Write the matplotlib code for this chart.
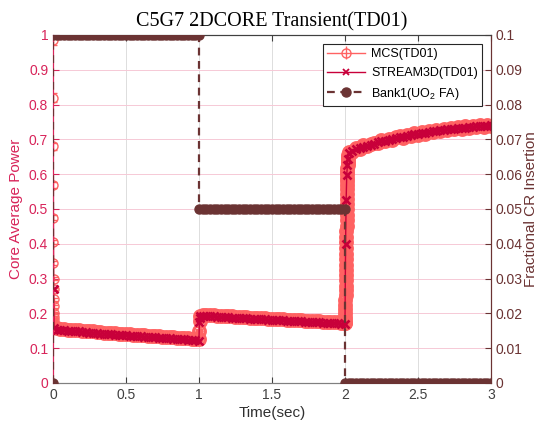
import numpy as np
import matplotlib
matplotlib.use("Agg")
from matplotlib import pyplot as plt
from matplotlib.ticker import FormatStrFormatter

# --- podatki (odčitani s slike) ---
# začetni padec moči pri t=0 (zelo majhni časovni koraki)
t_drop = [0.0, 0.0005, 0.001, 0.0015, 0.002, 0.0025, 0.003, 0.0035,
          0.004, 0.0045, 0.005, 0.0055, 0.006, 0.0065, 0.007, 0.0075]
mcs_drop = [0.985, 0.820, 0.680, 0.570, 0.475, 0.405, 0.345, 0.300,
            0.270, 0.240, 0.220, 0.200, 0.190, 0.180, 0.170, 0.160]
t_drop_s = [0.0, 0.004, 0.0075]
str_drop = [1.000, 0.270, 0.158]

# časovna mreža za gladke dele (korak 0.025 s)
t_a = [round(0.025 * i, 3) for i in range(1, 41)]          # 0.025 .. 1.0
t_b = [round(1.0 + 0.025 * i, 3) for i in range(1, 41)]    # 1.025 .. 2.0
t_c = [round(2.0 + 0.025 * i, 3) for i in range(1, 41)]    # 2.025 .. 3.0

str_a = [0.153, 0.152, 0.151, 0.150, 0.149, 0.148, 0.148, 0.147, 0.146, 0.145,
         0.144, 0.143, 0.142, 0.142, 0.141, 0.140, 0.139, 0.138, 0.138, 0.137,
         0.136, 0.135, 0.134, 0.134, 0.133, 0.132, 0.131, 0.131, 0.130, 0.129,
         0.128, 0.128, 0.127, 0.126, 0.125, 0.125, 0.124, 0.123, 0.123, 0.122]
mcs_a = [0.157, 0.155, 0.155, 0.153, 0.153, 0.151, 0.152, 0.150, 0.150, 0.148,
         0.148, 0.146, 0.146, 0.145, 0.145, 0.143, 0.143, 0.141, 0.142, 0.140,
         0.140, 0.138, 0.138, 0.137, 0.137, 0.135, 0.135, 0.134, 0.134, 0.132,
         0.132, 0.131, 0.131, 0.129, 0.129, 0.128, 0.128, 0.126, 0.127, 0.125]

# skok pri t=1
t_j1 = [1.0025, 1.005, 1.0075]
mcs_j1 = [0.150, 0.178, 0.192]
str_j1 = [0.175, 0.188, 0.191]

str_b = [0.193, 0.192, 0.192, 0.191, 0.190, 0.190, 0.189, 0.189, 0.188, 0.187,
         0.187, 0.186, 0.186, 0.185, 0.184, 0.184, 0.183, 0.183, 0.182, 0.181,
         0.181, 0.180, 0.180, 0.179, 0.178, 0.178, 0.177, 0.177, 0.176, 0.175,
         0.175, 0.174, 0.174, 0.173, 0.172, 0.172, 0.171, 0.171, 0.170, 0.169]
mcs_b = [0.196, 0.195, 0.195, 0.194, 0.193, 0.193, 0.192, 0.192, 0.191, 0.190,
         0.190, 0.189, 0.189, 0.188, 0.187, 0.187, 0.186, 0.186, 0.185, 0.184,
         0.184, 0.183, 0.183, 0.182, 0.181, 0.181, 0.180, 0.180, 0.179, 0.178,
         0.178, 0.177, 0.177, 0.176, 0.175, 0.175, 0.174, 0.174, 0.173, 0.172]

# hiter porast pri t=2
t_j2 = [round(2.0 + 0.0005 * i, 4) for i in range(1, 41)]  # 2.0005 .. 2.02
mcs_j2 = [0.172, 0.180, 0.190, 0.200, 0.212, 0.225, 0.238, 0.252, 0.266, 0.280,
          0.295, 0.310, 0.325, 0.340, 0.356, 0.372, 0.388, 0.404, 0.420, 0.436,
          0.452, 0.468, 0.484, 0.500, 0.515, 0.530, 0.544, 0.557, 0.569, 0.580,
          0.590, 0.600, 0.609, 0.617, 0.625, 0.632, 0.639, 0.645, 0.650, 0.655]
t_j2_s = [2.004, 2.008, 2.012, 2.016, 2.020]
str_j2 = [0.400, 0.527, 0.597, 0.625, 0.643]

str_c = [0.660, 0.667, 0.671, 0.675, 0.679, 0.682, 0.685, 0.688, 0.691, 0.694,
         0.696, 0.699, 0.701, 0.704, 0.706, 0.708, 0.710, 0.712, 0.714, 0.716,
         0.718, 0.719, 0.721, 0.723, 0.724, 0.726, 0.727, 0.729, 0.730, 0.731,
         0.732, 0.733, 0.734, 0.735, 0.736, 0.737, 0.738, 0.739, 0.739, 0.740]
mcs_c = [0.664, 0.665, 0.674, 0.673, 0.683, 0.680, 0.688, 0.690, 0.689, 0.697,
         0.694, 0.702, 0.699, 0.706, 0.709, 0.705, 0.713, 0.710, 0.717, 0.713,
         0.721, 0.716, 0.724, 0.720, 0.728, 0.723, 0.731, 0.726, 0.733, 0.729,
         0.735, 0.731, 0.737, 0.733, 0.739, 0.735, 0.741, 0.736, 0.742, 0.738]
mcs_rel_err = 0.015

# palica 1 (delež vstavljenosti)
bank_levels = [0.1, 0.05, 0.0]

xticks = [0, 0.5, 1, 1.5, 2, 2.5, 3]
left_ticks = [round(0.1 * i, 1) for i in range(11)]
right_ticks = [round(0.01 * i, 2) for i in range(11)]

# --- sestavi serije ---
t_mcs = np.array(t_drop[-1:] + t_a + t_j1 + t_b + t_j2 + t_c)
p_mcs = np.array(mcs_drop[-1:] + mcs_a + mcs_j1 + mcs_b + mcs_j2 + mcs_c)
t_str = np.array(t_drop_s + t_a + t_j1 + t_b + t_j2_s + t_c)
p_str = np.array(str_drop + str_a + str_j1 + str_b + str_j2 + str_c)

t_bank = [0.0, 0.0] + t_a + [1.0] + t_b + [2.0] + t_c
v_bank = ([0.0, bank_levels[0]] + [bank_levels[0]] * len(t_a) + [bank_levels[1]]
          + [bank_levels[1]] * len(t_b) + [bank_levels[2]] + [bank_levels[2]] * len(t_c))

c_left = '#D8245A'
c_right = '#6B3333'
c_mcs = '#FF6262'
c_str = '#C8003A'

plt.rcParams['font.family'] = ['Liberation Sans', 'DejaVu Sans']
plt.rcParams['mathtext.fontset'] = 'custom'
plt.rcParams['mathtext.rm'] = 'Liberation Sans'

fig = plt.figure(figsize=(5.43, 4.26), dpi=100)
ax = fig.add_axes([0.0976, 0.101, 0.8066, 0.817])
ax2 = ax.twinx()

# začetni padec: tanki posamezni krogi
ax.errorbar(t_drop, mcs_drop, yerr=np.array(mcs_drop) * mcs_rel_err, color=c_mcs, marker='o',
            markersize=6.5, mfc='none', mew=1.0, lw=1.0, elinewidth=1.0, capsize=3, zorder=2)
# ostalo: gosti krogi z debelim robom, da se zlijejo v pas kot na originalu
ax.errorbar(t_mcs, p_mcs, yerr=p_mcs * mcs_rel_err, color=c_mcs, marker='o',
            markersize=8.5, mfc='none', mew=2.2, lw=1.0, elinewidth=1.2,
            capsize=3, zorder=2)
h_str, = ax.plot(t_str, p_str, color=c_str, marker='x', markersize=6, mew=1.9,
                 lw=1.0, label='STREAM3D(TD01)', zorder=3)
h_bank, = ax2.plot(t_bank, v_bank, color=c_right, marker='o', markersize=6.5,
                   ls='--', lw=1.6, dashes=(3.5, 2.5), label='Bank1(UO$_2$ FA)', zorder=4)
# tanek krog samo za legendo
h_mcs = ax.errorbar([], [], yerr=[], color=c_mcs, marker='o', markersize=6.5,
                    mfc='none', mew=1.0, lw=1.0, elinewidth=1.0, capsize=3)
h_str_leg, = ax.plot([], [], color=c_str, marker='x', markersize=4.5, mew=1.3, lw=1.0)

ax.set_xlim(0, 3)
ax.set_ylim(0, 1)
ax2.set_ylim(0, 0.1)
ax.set_xticks(xticks)
ax.set_yticks(left_ticks)
ax2.set_yticks(right_ticks)
ax.xaxis.set_major_formatter(FormatStrFormatter('%g'))
ax.yaxis.set_major_formatter(FormatStrFormatter('%g'))
ax2.yaxis.set_major_formatter(FormatStrFormatter('%g'))

# mreža: navpične sive, vodoravne rožnate
ax.grid(axis='x', color='#dddddd', lw=0.7)
ax.grid(axis='y', color='#f6c9d6', lw=0.7)
ax.set_axisbelow(True)

ax.tick_params(axis='x', direction='in', length=4, colors='#404040', labelsize=10, top=True)
ax.tick_params(axis='y', direction='in', length=4, colors=c_left, labelsize=10)
ax2.tick_params(axis='y', direction='in', length=4, colors=c_right, labelsize=10)

for a in (ax, ax2):
    a.spines['left'].set_color(c_left)
    a.spines['right'].set_color(c_right)
    a.spines['top'].set_color('#404040')
    a.spines['bottom'].set_color('#808080')

ax.set_xlabel('Time(sec)', fontsize=11, color='#303030', labelpad=3)
ax.set_ylabel('Core Average Power', fontsize=11, color=c_left, labelpad=4)
ax2.set_ylabel('Fractional CR Insertion', fontsize=11, color=c_right, labelpad=1)
ax.set_title('C5G7 2DCORE Transient(TD01)', fontsize=14.5, family='Liberation Serif', pad=6)

leg = ax2.legend([h_mcs, h_str_leg, h_bank], ['MCS(TD01)', 'STREAM3D(TD01)', 'Bank1(UO$_2$ FA)'],
                 loc='upper right', fontsize=9, frameon=True, fancybox=False,
                 handlelength=3.0, handletextpad=0.5, borderpad=0.35, labelspacing=0.55,
                 borderaxespad=0.7, framealpha=1.0)
leg.get_frame().set_edgecolor('#262626')
leg.get_frame().set_linewidth(0.8)

fig.savefig('out.png', dpi=100)
